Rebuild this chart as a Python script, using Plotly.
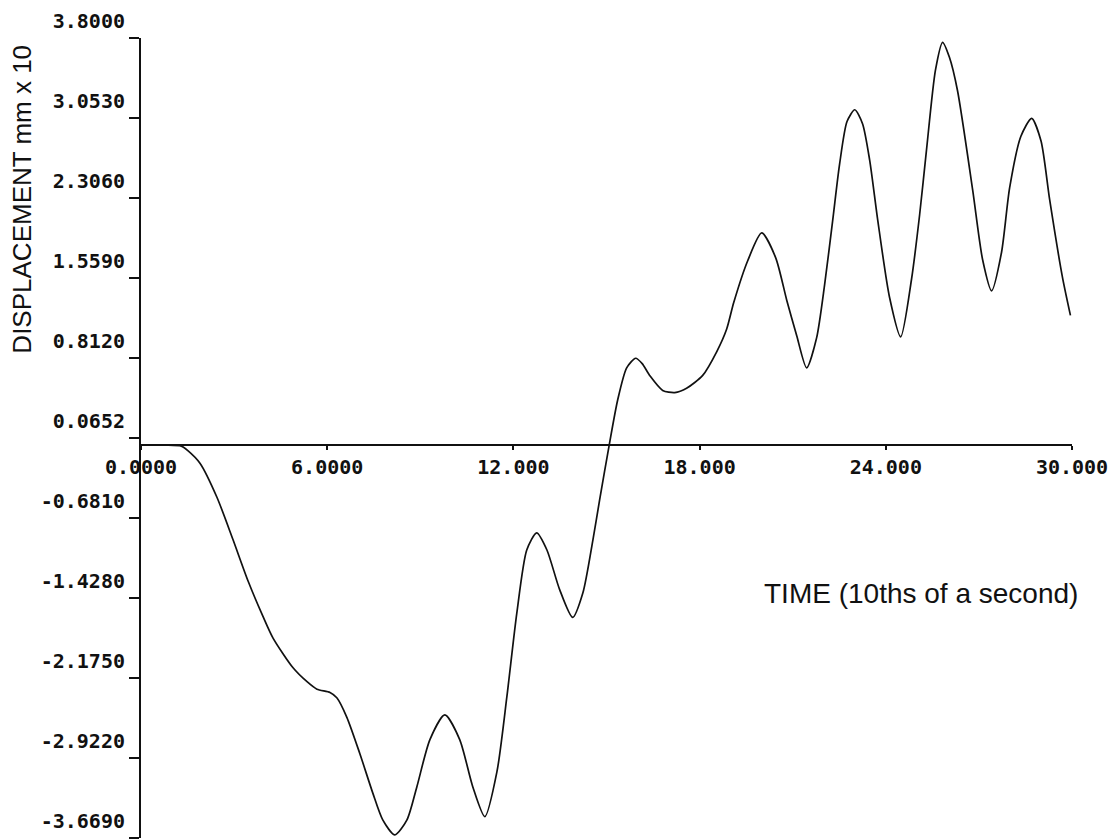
import plotly.graph_objects as go

# ---- data ----
time = [0, 0.8, 1.3, 1.5, 1.9, 2.45, 2.96, 3.45, 3.93, 4.25,
        4.9, 5.35, 5.67, 6.09, 6.31, 6.63, 7.05, 7.47, 7.79, 8.18,
        8.57, 8.89, 9.31, 9.79, 10.27, 10.69, 11.08, 11.47, 11.79, 12.11,
        12.43, 12.75, 13.08, 13.49, 13.91, 14.24, 14.56, 14.78, 15.10, 15.36,
        15.65, 15.94, 16.15, 16.39, 16.81, 17.20, 17.58, 18.10, 18.55, 18.87,
        19.10, 19.55, 20.0, 20.45, 20.81, 21.13, 21.45, 21.77, 22.03, 22.29,
        22.51, 22.75, 23.0, 23.25, 23.48, 23.74, 24.12, 24.48, 24.83, 25.09,
        25.31, 25.6, 25.83, 26.05, 26.31, 26.80, 27.12, 27.41, 27.73, 27.99,
        28.35, 28.70, 29.0, 29.28, 29.69, 29.95]
displacement = [0, 0, -0.01, -0.05, -0.17, -0.49, -0.88, -1.27, -1.60, -1.80,
                -2.08, -2.21, -2.28, -2.31, -2.36, -2.54, -2.88, -3.25, -3.50, -3.64,
                -3.50, -3.19, -2.75, -2.52, -2.75, -3.19, -3.47, -3.05, -2.35, -1.57,
                -0.98, -0.82, -0.98, -1.35, -1.61, -1.38, -0.89, -0.51, 0.02, 0.42,
                0.72, 0.81, 0.76, 0.65, 0.51, 0.49, 0.53, 0.65, 0.87, 1.08,
                1.33, 1.72, 1.98, 1.75, 1.35, 1.02, 0.72, 1.00, 1.50, 2.10,
                2.62, 3.02, 3.13, 3.00, 2.66, 2.10, 1.38, 1.01, 1.55, 2.15,
                2.75, 3.50, 3.76, 3.62, 3.31, 2.38, 1.73, 1.44, 1.80, 2.40,
                2.88, 3.05, 2.84, 2.29, 1.57, 1.21]

x_ticks = [0, 6, 12, 18, 24, 30]
x_tick_labels = ["0.0000", "6.0000", "12.000", "18.000", "24.000", "30.000"]
y_ticks = [3.8, 3.053, 2.306, 1.559, 0.812, 0.0652, -0.681, -1.428, -2.175, -2.922, -3.669]
y_tick_labels = ["3.8000", "3.0530", "2.3060", "1.5590", "0.8120", "0.0652",
                 "-0.6810", "-1.4280", "-2.1750", "-2.9220", "-3.6690"]
y_min, y_max = -3.669, 3.8

tick_font = dict(family="DejaVu Sans Mono", size=20, color="#111", weight="bold")
title_font = dict(family="Liberation Sans", size=26, color="#111")

fig = go.Figure()
fig.add_trace(go.Scatter(
    x=time, y=displacement, mode="lines",
    line=dict(color="#111", width=1.7, shape="spline", smoothing=0.7),
    showlegend=False, hoverinfo="skip",
))

fig.update_layout(
    width=1115, height=840,
    margin=dict(l=141, r=43, t=38, b=2, autoexpand=False),
    paper_bgcolor="white", plot_bgcolor="white",
    xaxis=dict(
        range=[0, 30], showgrid=False, zeroline=False,
        showline=True, linecolor="#111", linewidth=2,
        anchor="free", position=(0 - y_min) / (y_max - y_min),
        tickmode="array", tickvals=x_ticks, ticktext=x_tick_labels,
        ticks="outside", ticklen=4, tickcolor="#111", tickwidth=1.5,
        tickfont=tick_font,
    ),
    yaxis=dict(
        range=[y_min, y_max], showgrid=False, zeroline=False,
        showline=True, linecolor="#111", linewidth=2,
        tickmode="array", tickvals=y_ticks, ticktext=y_tick_labels,
        ticks="outside", ticklen=10, tickcolor="#111", tickwidth=1.5,
        tickfont=tick_font, ticklabelshift=-17,
    ),
    annotations=[
        dict(text="DISPLACEMENT mm x 10", xref="paper", yref="paper",
             x=-0.128, y=0.799, xanchor="center", yanchor="middle",
             textangle=-90, showarrow=False, font=title_font),
        dict(text="TIME (10ths of a second)", xref="paper", yref="paper",
             x=1.0086, y=0.306, xanchor="right", yanchor="middle",
             showarrow=False, font=dict(family="Liberation Sans", size=28, color="#111")),
    ],
)

fig.write_html("out.html")
